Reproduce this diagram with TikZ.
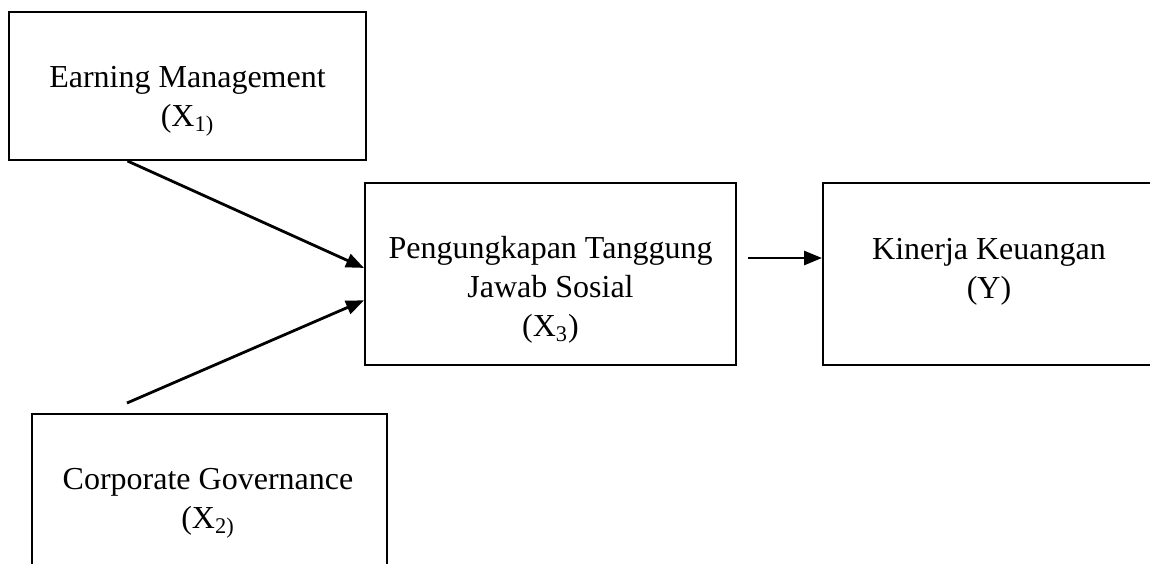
\documentclass[tikz,border=0pt]{standalone}
\usepackage{fontspec}
\setmainfont{Liberation Serif}
\usetikzlibrary{arrows.meta,calc}
\begin{document}
\begin{tikzpicture}[x=0.5pt,y=-0.5pt,
	kotak/.style={draw, line width=1pt, inner sep=0pt},
	teks/.style={align=center, inner sep=0pt, font=\fontsize{16}{19.5}\selectfont},
	panah/.style={-{Triangle[length=9pt,width=7pt]}, line width=1.4pt}]
		\useasboundingbox (0,0) rectangle (1150,563);
		\clip (0,0) rectangle (1150,563);
		% Kotak
		\node[kotak, minimum width=178.5pt, minimum height=74pt] (em) at (187.5,86) {};
		\node[kotak, minimum width=185.5pt, minimum height=91pt] (pts) at (550.5,274) {};
		\node[kotak, minimum width=166.5pt, minimum height=91pt] (kk) at (989.5,274) {};
		\node[kotak, minimum width=177.5pt, minimum height=76pt] (cg) at (209.5,490) {};
		% Teks
		\node[teks] (tem) at (187.5,101) {Earning Management\\(X\textsubscript{1)}};
		\node[teks] (tpts) at (550.5,290) {Pengungkapan Tanggung\\Jawab Sosial\\(X\textsubscript{3})};
		\node[teks] (tkk) at (989,272) {Kinerja Keuangan\\(Y)};
		\node[teks] (tcg) at (208,503) {Corporate Governance\\(X\textsubscript{2)}};
		% Panah
		\coordinate (a1) at ($(em.south west)!0.333!(em.south east)$);
		\coordinate (a2) at ($(cg.north west)+(96,-10)$);
		\coordinate (a3) at ($(pts.east)+(11,-16)$);
		\draw[panah] (a1) -- ($(pts.north west)!0.467!(pts.south west)$);
		\draw[panah] (a2) -- ($(pts.north west)!0.643!(pts.south west)$);
		\draw[panah] (a3) -- ($(kk.west)+(0,-16)$);
	\end{tikzpicture}
\end{document}
